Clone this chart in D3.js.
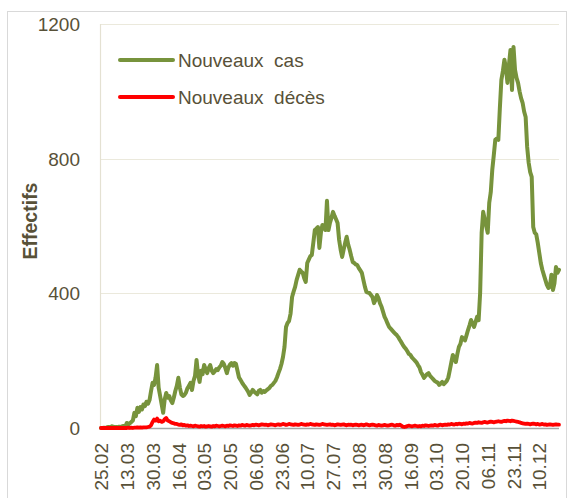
<!DOCTYPE html>
<html>
<head>
<meta charset="utf-8">
<script src="https://cdn.jsdelivr.net/npm/d3@7/dist/d3.min.js"></script>
<style>
  html, body { margin: 0; padding: 0; background: #ffffff; }
  svg { display: block; }
  text { font-family: "Liberation Sans", Arial, sans-serif; fill: #585138; }
</style>
</head>
<body>
<svg id="chart" width="567" height="498"></svg>
<script>
// ---- Data (daily values from 25.02.2020) ----
const startDate = "2020-02-25";
const seriesNames = ["Nouveaux  cas", "Nouveaux  décès"];
const seriesColors = ["#77933C", "#FF0000"];

const nouveauxCas = [
  0, 0, 1, 0, 2, 3, 2, 5, 4, 2,
  3, 2, 4, 3, 5, 6, 4, 15, 10, 14,
  18, 22, 45, 35, 60, 48, 62, 55, 70, 65,
  78, 72, 83, 110, 134, 128, 150, 187, 120, 95,
  70, 45, 85, 104, 90, 95, 82, 74, 90, 110,
  125, 149, 120, 100, 95, 98, 105, 118, 125, 134,
  113, 140, 155, 202, 160, 137, 170, 160, 187, 175,
  163, 178, 187, 170, 163, 168, 175, 172, 180, 185,
  196, 190, 178, 163, 180, 188, 193, 185, 193, 190,
  170, 150, 143, 135, 128, 122, 115, 108, 98, 105,
  113, 108, 104, 100, 110, 113, 105, 110, 107, 112,
  115, 119, 125, 128, 134, 140, 150, 163, 175, 190,
  211, 241, 300, 312, 318, 340, 389, 405, 419, 440,
  455, 470, 465, 461, 445, 434, 490, 500, 510, 514,
  550, 588, 592, 597, 535, 580, 603, 600, 588, 675,
  588, 610, 625, 642, 630, 620, 609, 559, 530, 508,
  530, 550, 568, 545, 529, 510, 493, 490, 486, 484,
  475, 468, 461, 440, 420, 404, 402, 401, 395, 389,
  371, 380, 395, 385, 370, 360, 345, 330, 321, 310,
  300, 295, 290, 285, 280, 276, 270, 262, 255, 247,
  240, 235, 228, 220, 217, 210, 205, 200, 195, 187,
  180, 166, 158, 149, 155, 160, 163, 155, 150, 145,
  140, 137, 135, 128, 132, 137, 130, 135, 140, 150,
  172, 195, 217, 205, 196, 220, 241, 250, 270, 265,
  260, 275, 291, 305, 321, 310, 300, 315, 330, 320,
  401, 580, 642, 620, 600, 580, 669, 700, 767, 810,
  856, 860, 856, 950, 1034, 1060, 1094, 1070, 1025, 1080,
  1123, 1004, 1132, 1064, 1040, 1025, 1000, 980, 966, 940,
  924, 835, 788, 760, 746, 597, 580, 575, 550, 520,
  490, 470, 455, 440, 425, 416, 420, 455, 410, 430,
  478, 461, 470
];

const nouveauxDeces = [
  0, 0, 0, 0, 0, 0, 0, 0, 0, 0,
  0, 0, 0, 0, 0, 0, 0, 0, 1, 0,
  1, 0, 1, 1, 2, 1, 2, 1, 2, 2,
  2, 3, 4, 8, 18, 25, 22, 28, 20, 22,
  18, 20, 26, 30, 22, 20, 17, 15, 14, 12,
  12, 10, 9, 11, 8, 9, 7, 8, 6, 7,
  6, 5, 7, 6, 5, 4, 6, 5, 6, 4,
  5, 6, 5, 4, 6, 5, 7, 6, 5, 6,
  7, 6, 5, 7, 6, 8, 7, 6, 8, 7,
  6, 8, 7, 9, 8, 7, 9, 8, 7, 8,
  9, 8, 10, 9, 8, 9, 11, 10, 9, 10,
  8, 9, 11, 10, 9, 8, 10, 11, 9, 10,
  12, 11, 9, 10, 12, 11, 10, 9, 11, 10,
  9, 10, 12, 11, 10, 9, 11, 10, 12, 11,
  10, 9, 11, 10, 9, 10, 12, 11, 10, 9,
  10, 11, 9, 10, 8, 9, 11, 10, 9, 10,
  11, 9, 8, 10, 9, 10, 8, 9, 10, 9,
  8, 9, 10, 8, 9, 11, 9, 8, 9, 10,
  9, 8, 7, 9, 8, 7, 8, 9, 8, 7,
  8, 9, 10, 8, 7, 9, 8, 10, 7, 4,
  3, 4, 6, 7, 6, 5, 6, 7, 6, 5,
  6, 5, 7, 6, 8, 7, 6, 7, 8, 7,
  9, 8, 7, 9, 10, 8, 9, 10, 9, 11,
  10, 12, 11, 10, 12, 11, 13, 12, 11, 13,
  12, 14, 13, 15, 14, 13, 15, 16, 15, 17,
  16, 15, 17, 18, 17, 16, 18, 19, 18, 17,
  18, 19, 20, 19, 18, 20, 21, 20, 22, 21,
  20, 22, 21, 20, 19, 18, 17, 15, 14, 13,
  12, 13, 12, 11, 12, 13, 12, 11, 12, 10,
  11, 12, 10, 11, 9, 10, 11, 10, 9, 10,
  11, 10, 10
];

const tickLabels = ["25.02","13.03","30.03","16.04","03.05","20.05","06.06","23.06",
  "10.07","27.07","13.08","30.08","16.09","03.10","20.10","06.11","23.11","10.12"];
const yTicks = [0, 400, 800, 1200];
const yTitle = "Effectifs";

// ---- Drawing ----
const svg = d3.select("#chart");
const plot = { left: 101, right: 559, top: 24, bottom: 428 };

const t0 = new Date(startDate + "T00:00:00Z");
const dayMs = 86400000;
const dates = nouveauxCas.map((_, i) => new Date(t0.getTime() + i * dayMs));

const x = d3.scaleUtc()
  .domain([dates[0], dates[dates.length - 1]])
  .range([plot.left, plot.right]);
const y = d3.scaleLinear().domain([0, 1200]).range([plot.bottom, plot.top]);

// Outer chart border
svg.append("rect")
  .attr("x", 7.5).attr("y", 11.5)
  .attr("width", 559).attr("height", 490)
  .attr("fill", "none").attr("stroke", "#d9d9d9").attr("stroke-width", 1);

// Gridlines
svg.append("g").selectAll("line")
  .data(yTicks.filter(v => v > 0))
  .join("line")
  .attr("x1", plot.left - 1).attr("x2", plot.right)
  .attr("y1", d => Math.round(y(d)) + 0.5).attr("y2", d => Math.round(y(d)) + 0.5)
  .attr("stroke", "#ebe9dc").attr("stroke-width", 1.2);

// Left axis line
svg.append("line")
  .attr("x1", plot.left - 0.5).attr("x2", plot.left - 0.5)
  .attr("y1", plot.top).attr("y2", plot.bottom)
  .attr("stroke", "#e4e1d2").attr("stroke-width", 1.2);

// Y axis labels
const yAxis = d3.axisLeft(y).tickValues(yTicks).tickSize(0).tickPadding(0)
  .tickFormat(d3.format("d"));
const gy = svg.append("g").attr("transform", `translate(${plot.left - 21},0)`).call(yAxis);
gy.select(".domain").remove();
gy.selectAll("text")
  .style("font-family", '"Liberation Sans", Arial, sans-serif')
  .style("font-size", "19px").attr("fill", "#585138").attr("dy", "0.35em");

// Y title
svg.append("text")
  .attr("transform", "translate(37,221) rotate(-90)")
  .attr("text-anchor", "middle")
  .style("font-size", "19.5px").style("font-weight", "bold")
  .text(yTitle);

// X axis labels
const tickDates = tickLabels.map(s => {
  const [dd, mm] = s.split(".");
  return new Date(Date.UTC(2020, +mm - 1, +dd));
});
const xAxis = d3.axisBottom(x).tickValues(tickDates).tickSize(0).tickPadding(0)
  .tickFormat(d3.utcFormat("%d.%m"));
const gx = svg.append("g").attr("transform", `translate(0,${plot.bottom + 15})`).call(xAxis);
gx.select(".domain").remove();
gx.selectAll("text")
  .style("font-family", '"Liberation Sans", Arial, sans-serif')
  .style("font-size", "19px").attr("fill", "#585138")
  .attr("transform", "rotate(-90)")
  .attr("text-anchor", "end")
  .attr("x", 0).attr("y", 0).attr("dy", "0.35em");

// Baseline at 0
svg.append("line")
  .attr("x1", plot.left - 1).attr("x2", plot.right)
  .attr("y1", plot.bottom + 0.5).attr("y2", plot.bottom + 0.5)
  .attr("stroke", "#a6a6a6").attr("stroke-width", 1.5);

// Lines
const series = [nouveauxCas, nouveauxDeces];
const line = d3.line().x((d, i) => x(dates[i])).y(d => y(d));
series.forEach((vals, k) => {
  svg.append("path")
    .datum(vals)
    .attr("fill", "none")
    .attr("stroke", seriesColors[k])
    .attr("stroke-width", k === 0 ? 4 : 3.8)
    .attr("stroke-linejoin", "round")
    .attr("stroke-linecap", "round")
    .attr("d", line);
});

// Legend
const legend = svg.append("g");
seriesNames.forEach((name, k) => {
  const ly = 60 + k * 37;
  legend.append("line")
    .attr("x1", 120).attr("x2", 173)
    .attr("y1", ly).attr("y2", ly)
    .attr("stroke", seriesColors[k]).attr("stroke-width", 4)
    .attr("stroke-linecap", "round");
  legend.append("text")
    .attr("x", 178).attr("y", ly + 6.5)
    .style("font-size", "19px")
    .style("white-space", "pre")
    .attr("xml:space", "preserve")
    .text(name);
});
</script>
</body>
</html>
